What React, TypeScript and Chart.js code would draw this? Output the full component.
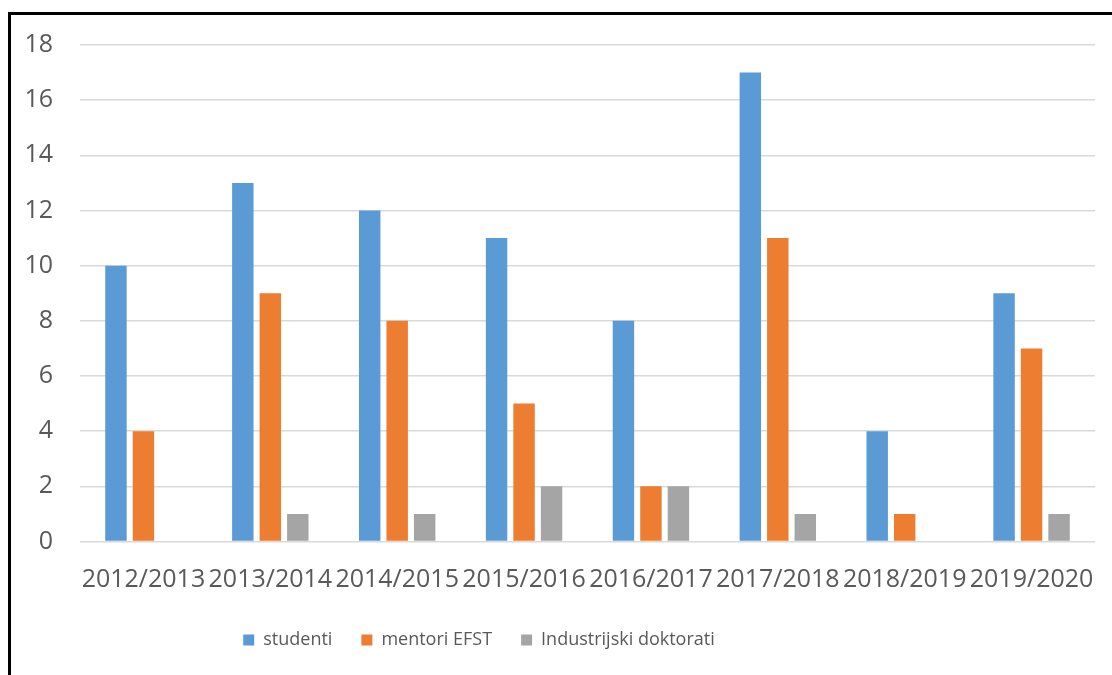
import React, { useEffect, useRef } from "react";
import { Chart, registerables } from "chart.js";

Chart.register(...registerables);

const categories = [
  "2012/2013",
  "2013/2014",
  "2014/2015",
  "2015/2016",
  "2016/2017",
  "2017/2018",
  "2018/2019",
  "2019/2020",
];
const studenti = [10, 13, 12, 11, 8, 17, 4, 9];
const mentoriEFST = [4, 9, 8, 5, 2, 11, 1, 7];
const industrijskiDoktorati = [0, 1, 1, 2, 2, 1, 0, 1];
const seriesNames = ["studenti", "mentori EFST", "Industrijski doktorati"];
const yMin = 0;
const yMax = 18;
const yStep = 2;

const TEXT = "#595959";
const FONT = "Open Sans";

export default function App() {
  const ref = useRef<HTMLCanvasElement>(null);

  useEffect(() => {
    if (!ref.current) return;
    const chart = new Chart(ref.current, {
      type: "bar",
      data: {
        labels: categories,
        datasets: [
          {
            label: seriesNames[0],
            data: studenti,
            backgroundColor: "#5B9BD5",
            categoryPercentage: 0.65,
            barPercentage: 0.78,
          },
          {
            label: seriesNames[1],
            data: mentoriEFST,
            backgroundColor: "#ED7D31",
            categoryPercentage: 0.65,
            barPercentage: 0.78,
          },
          {
            label: seriesNames[2],
            data: industrijskiDoktorati,
            backgroundColor: "#A5A5A5",
            categoryPercentage: 0.65,
            barPercentage: 0.78,
          },
        ],
      },
      options: {
        responsive: false,
        animation: false,
        layout: { padding: { left: 0, right: 17, top: 30, bottom: 16 } },
        scales: {
          x: {
            grid: { display: false },
            border: { display: false },
            ticks: {
              autoSkip: false,
              maxRotation: 0,
              minRotation: 0,
              padding: 15,
              color: TEXT,
              font: { family: FONT, size: 25 },
            },
            afterFit: (s: any) => {
              s.height = 60.5;
              s.paddingLeft = 0;
              s.paddingRight = 0;
            },
          },
          y: {
            min: yMin,
            max: yMax,
            ticks: {
              stepSize: yStep,
              padding: 27,
              color: TEXT,
              font: { family: FONT, size: 25 },
            },
            grid: { color: "#d9d9d9", lineWidth: 1.5, drawTicks: false },
            border: { display: false },
            afterFit: (s: any) => {
              s.width = 69;
              s.paddingTop = 0;
              s.paddingBottom = 0;
            },
          },
        },
        plugins: {
          legend: {
            position: "bottom",
            labels: {
              boxWidth: 11,
              boxHeight: 11,
              padding: 29,
              color: TEXT,
              font: { family: FONT, size: 18 },
            },
          },
          tooltip: { enabled: false },
        },
      },
      plugins: [
        {
          id: "shiftLegend",
          afterLayout(c: any) {
            const lg = c.legend;
            if (lg) {
              lg.left -= 74;
              lg.right -= 74;
            }
          },
        },
      ],
    });
    return () => chart.destroy();
  }, []);

  return (
    <div
      style={{
        position: "absolute",
        left: 8,
        top: 12,
        width: 1104,
        height: 663,
        boxSizing: "border-box",
        borderTop: "3px solid #000",
        borderLeft: "3px solid #000",
        background: "#fff",
        overflow: "hidden",
      }}
    >
      <canvas ref={ref} width={1101} height={660} style={{ display: "block" }} />
    </div>
  );
}
